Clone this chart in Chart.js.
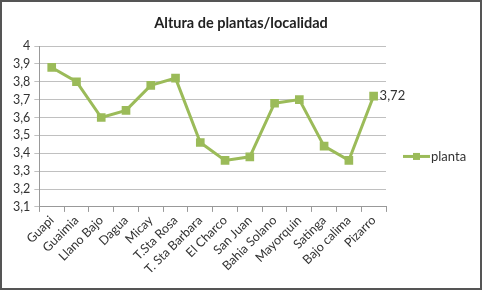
<!DOCTYPE html>
<html lang="es">
<head>
<meta charset="UTF-8">
<script src="https://cdn.jsdelivr.net/npm/chart.js@4.4.0/dist/chart.umd.min.js"></script>
<title>Altura de plantas</title>
<style>
  html, body { margin: 0; padding: 0; background: #fff; }
  .marco { width: 478px; height: 286px; border: 2px solid #555; position: relative; }
  canvas { display: block; }
</style>
</head>
<body>
<div class="marco">
  <canvas id="grafico" width="478" height="286"></canvas>
</div>
<script>
// datos
var localidades = ['Guapi', 'Guaimia', 'Llano Bajo', 'Dagua', 'Micay', 'T.Sta Rosa', 'T. Sta Barbara',
  'El Charco', 'San Juan', 'Bahia Solano', 'Mayorquin', 'Satinga', 'Bajo calima', 'Pizarro'];
var planta = [3.88, 3.80, 3.60, 3.64, 3.78, 3.82, 3.46, 3.36, 3.38, 3.68, 3.70, 3.44, 3.36, 3.72];
var serie = 'planta';
var titulo = 'Altura de plantas/localidad';

var verde = '#9bbb59';
var fuente = 'Lato, "Open Sans", sans-serif';

function coma(v) {
  return String(Math.round(v * 100) / 100).replace('.', ',');
}

// titulo centrado en todo el lienzo, etiqueta del ultimo punto y leyenda estilo Excel
var extras = {
  id: 'extras',
  afterDatasetsDraw: function(chart) {
    var ctx = chart.ctx;
    var meta = chart.getDatasetMeta(0);
    var ult = meta.data[meta.data.length - 1];
    ctx.save();
    ctx.textBaseline = 'middle';

    ctx.font = 'bold 14.5px ' + fuente;
    ctx.fillStyle = '#222';
    ctx.textAlign = 'center';
    ctx.fillText(titulo, chart.width / 2, 21);
    ctx.textAlign = 'left';

    ctx.font = '13px ' + fuente;
    ctx.fillStyle = '#333';
    ctx.fillText(coma(planta[planta.length - 1]), ult.x + 6, ult.y);

    // leyenda
    var lx = chart.chartArea.right + 17, ly = (chart.chartArea.top + chart.chartArea.bottom) / 2 + 30;
    ctx.strokeStyle = verde;
    ctx.lineWidth = 3;
    ctx.beginPath();
    ctx.moveTo(lx, ly);
    ctx.lineTo(lx + 27, ly);
    ctx.stroke();
    ctx.fillStyle = verde;
    ctx.fillRect(lx + 10, ly - 3.5, 7, 7);
    ctx.fillStyle = '#333';
    ctx.fillText(serie, lx + 28, ly);
    ctx.restore();
  }
};

var ctx = document.getElementById('grafico').getContext('2d');
var chart = new Chart(ctx, {
  type: 'line',
  data: {
    labels: localidades,
    datasets: [{
      label: serie,
      data: planta,
      borderColor: verde,
      backgroundColor: verde,
      borderWidth: 3,
      pointStyle: 'rect',
      pointRadius: 4,
      pointHoverRadius: 4,
      tension: 0
    }]
  },
  options: {
    responsive: false,
    animation: false,
    layout: { padding: { left: 7, right: 94, top: 44, bottom: 10 } },
    plugins: {
      legend: { display: false },
      tooltip: { enabled: false },
      title: { display: false }
    },
    scales: {
      x: {
        offset: true,
        grid: { display: true, drawOnChartArea: false, offset: true, color: '#999', tickLength: 5 },
        border: { color: '#999' },
        ticks: {
          color: '#333',
          font: { family: fuente, size: 12.5 },
          minRotation: 45,
          maxRotation: 45,
          autoSkip: false,
          padding: 1
        }
      },
      y: {
        min: 3.1,
        max: 4,
        grid: { color: '#c0c0c0', tickLength: 5 },
        border: { color: '#999' },
        ticks: {
          stepSize: 0.1,
          autoSkip: false,
          color: '#333',
          font: { family: fuente, size: 12.5 },
          padding: 4,
          callback: function(v) { return coma(v); }
        }
      }
    }
  },
  plugins: [extras]
});
</script>
</body>
</html>
